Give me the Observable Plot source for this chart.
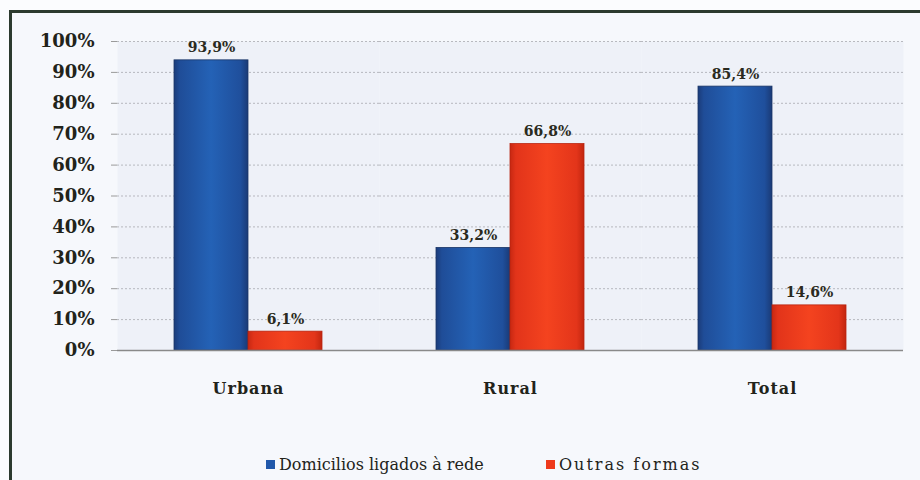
<!DOCTYPE html>
<html>
<head>
<meta charset="utf-8">
<script src="https://cdn.jsdelivr.net/npm/d3@7"></script>
<script src="https://cdn.jsdelivr.net/npm/@observablehq/plot@0.6"></script>
<style>
  html, body { margin: 0; padding: 0; background: #fbfcfe; }
  #wrap { position: relative; width: 920px; height: 480px; overflow: hidden; background: #f6f8fc; }
  #frame { position: absolute; left: 9px; top: 10px; width: 930px; height: 490px;
           border-left: 3px solid #2c3a2e; border-top: 3px solid #2c3a2e; pointer-events: none; }
  #outer-top { position: absolute; left: 0; top: 0; width: 920px; height: 10px; background: #fbfcfe; }
  #outer-left { position: absolute; left: 0; top: 0; width: 9px; height: 480px; background: #fbfcfe; }
  #legend { position: absolute; left: 0; top: 450px; width: 920px; height: 30px;
            font-family: "DejaVu Serif", "Liberation Serif", "Noto Serif", "Times New Roman", serif; font-size: 16px;
            color: #22231a; }
  .item { position: absolute; top: 0; height: 30px; line-height: 30px; display: flex; align-items: center; }
  .sw { width: 9px; height: 9px; margin-right: 4px; margin-top: -2px; }
</style>
</head>
<body>
<div id="wrap">
  <div id="chart"></div>
  <div id="legend"></div>
  <div id="outer-top"></div>
  <div id="outer-left"></div>
  <div id="frame"></div>
</div>
<script>
const categories = ["Urbana", "Rural", "Total"];
const series = ["Domicilios ligados à rede", "Outras formas"];
const ligados = [93.9, 33.2, 85.4];
const outras = [6.1, 66.8, 14.6];
const yTicks = [0, 10, 20, 30, 40, 50, 60, 70, 80, 90, 100];
const colors = ["#2158aa", "#ee3a1c"];

const data = [];
categories.forEach((c, i) => {
  data.push({cat: c, serie: series[0], value: ligados[i]});
  data.push({cat: c, serie: series[1], value: outras[i]});
});
const fmt = v => v.toFixed(1).replace(".", ",") + "%";
const serif = "'DejaVu Serif', 'Liberation Serif', 'Noto Serif', 'Times New Roman', serif";

const chart = Plot.plot({
  width: 920,
  height: 450,
  marginLeft: 116,
  marginRight: 17,
  marginTop: 41,
  marginBottom: 100,
  style: {background: "transparent", color: "#22231a"},
  fx: {domain: categories, padding: 0, label: null},
  x: {domain: series, paddingInner: 0, paddingOuter: 0.747, axis: null},
  y: {domain: [0, 100], label: null},
  marks: [
    Plot.frame({fill: "#eef1f8", stroke: null}),
    Plot.ruleY(yTicks.slice(1), {stroke: "#a9aab0", strokeDasharray: "2,2", strokeOpacity: 0.8}),
    Plot.barY(data.filter(d => d.serie === series[0]), {fx: "cat", x: "serie", y: "value", fill: "url(#gBlue)", stroke: "#1a3566", strokeWidth: 0.8}),
    Plot.barY(data.filter(d => d.serie === series[1]), {fx: "cat", x: "serie", y: "value", fill: "url(#gRed)", stroke: "#b8240f", strokeWidth: 0.8}),
    Plot.text(data, {fx: "cat", x: "serie", y: "value", text: d => fmt(d.value), dy: -8, lineAnchor: "bottom",
      fontFamily: serif, fontWeight: "bold", fontSize: 14, fill: "#2a2a20"}),
    Plot.axisY({ticks: yTicks, tickFormat: d => d + "%", tickSize: 6, tickPadding: 17, stroke: "#9a9a9a",
      fontFamily: serif, fontWeight: "bold", fontSize: 18, fill: "#22231a"}),
    Plot.ruleX([0], {stroke: "#b0a890", strokeWidth: 1.5, dx: 0}),
    Plot.ruleY([0], {stroke: "#8a8a8a", strokeWidth: 1.5}),
    Plot.axisFx({anchor: "bottom", tickSize: 0, tickPadding: 32, label: null,
      fontFamily: serif, fontWeight: "bold", fontSize: 16, fill: "#22231a"})
  ]
});

// gradients
const svg = d3.select(chart);
const defs = svg.insert("defs", ":first-child");
function grad(id, stops) {
  const g = defs.append("linearGradient").attr("id", id).attr("x1", "0").attr("x2", "1").attr("y1", "0").attr("y2", "0");
  stops.forEach(([o, c]) => g.append("stop").attr("offset", o).attr("stop-color", c));
}
grad("gBlue", [[0, "#1b3c7a"], [0.08, "#1f4d98"], [0.5, "#2462b6"], [0.9, "#1f4f9c"], [1, "#1a3a76"]]);
grad("gRed", [[0, "#c72812"], [0.08, "#e2341a"], [0.5, "#f4431f"], [0.9, "#e3351a"], [1, "#c2260f"]]);
svg.selectAll("[aria-label='fx-axis tick label']").attr("letter-spacing", "1");
document.getElementById("chart").appendChild(chart);

// legend
const legend = document.getElementById("legend");
const lefts = [266, 546];
const spacing = ["0px", "2px"];
series.forEach((s, i) => {
  const it = document.createElement("div");
  it.className = "item";
  it.style.left = lefts[i] + "px";
  const sw = document.createElement("div");
  sw.className = "sw";
  sw.style.background = colors[i];
  it.appendChild(sw);
  const t = document.createElement("span");
  t.textContent = s;
  t.style.letterSpacing = spacing[i];
  it.appendChild(t);
  legend.appendChild(it);
});
</script>
</body>
</html>
